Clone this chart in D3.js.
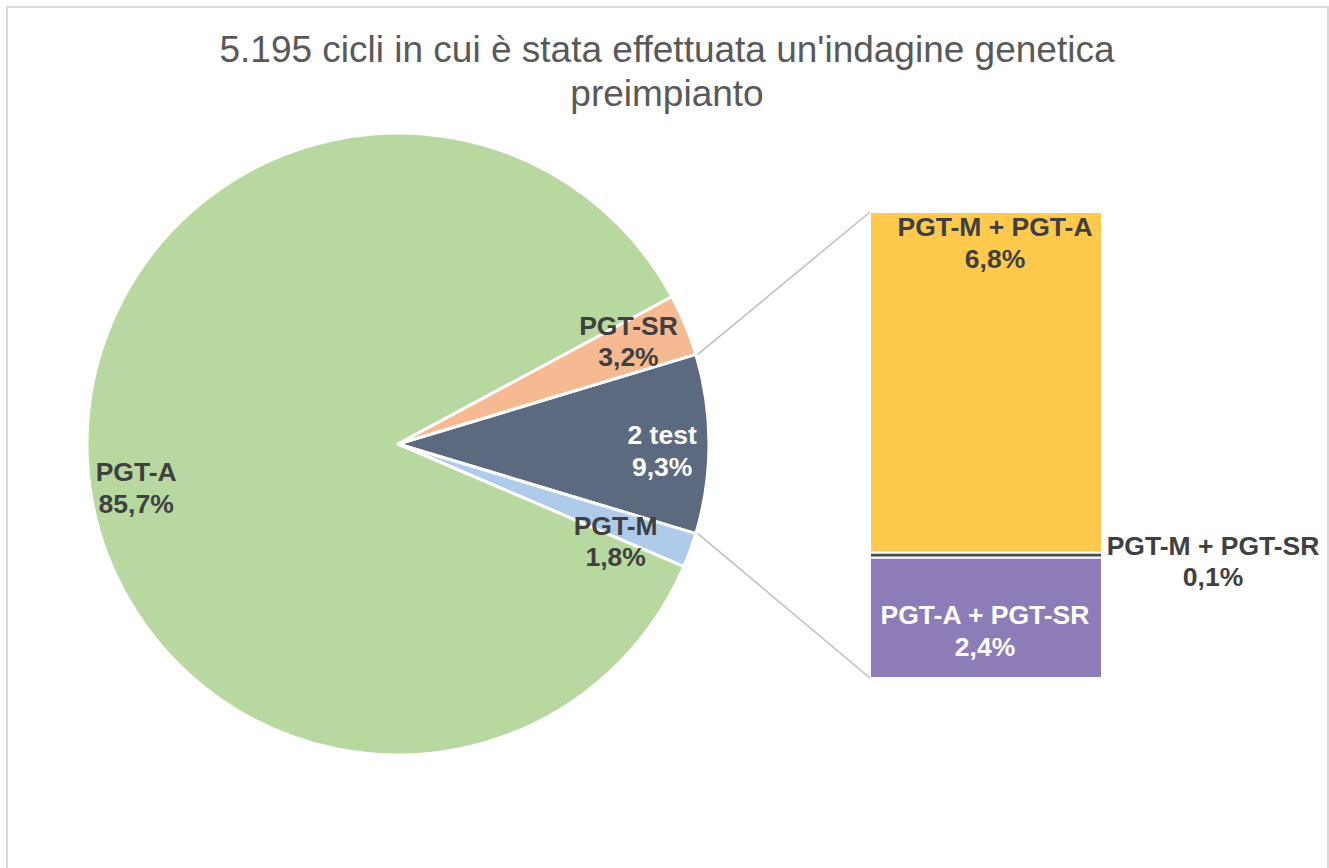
<!DOCTYPE html>
<html>
<head>
<meta charset="utf-8">
<script src="https://cdn.jsdelivr.net/npm/d3@7"></script>
<style>
  html, body { margin: 0; padding: 0; background: #fff; }
  svg { display: block; font-family: "Liberation Sans", Arial, sans-serif; }
</style>
</head>
<body>
<svg id="chart" width="1329" height="868"></svg>
<script>
// pie data (clockwise, starting at the "2 test" slice)
const pieLabels = ['2 test', 'PGT-M', 'PGT-A', 'PGT-SR'];
const pieValues = [9.3, 1.8, 85.7, 3.2];
const pieColors = ['#5c6a80', '#aecbea', '#b7d9a0', '#f5ba91'];
const pieTextColors = ['#ffffff', '#404040', '#404040', '#404040'];
// small label nudges (px) from the arc centroid, like the hand-placed labels
const pieNudge = [[6, 7], [-25, 9], [-4, 32], [-8, -4]];

// breakdown of "2 test" (top to bottom)
const barLabels = ['PGT-M + PGT-A', 'PGT-M + PGT-SR', 'PGT-A + PGT-SR'];
const barValues = [6.8, 0.1, 2.4];
const barColors = ['#ffc94d', '#4d4d4d', '#8e7cb8'];
const barTextColors = ['#404040', '#404040', '#ffffff'];

const titleLines = ["5.195 cicli in cui è stata effettuata un'indagine genetica", 'preimpianto'];

const fmt = v => d3.format('.1f')(v).replace('.', ',') + '%';

const svg = d3.select('#chart');
const W = 1329, H = 868;
const labelSize = '26.5px';

// outer frame
svg.append('rect')
  .attr('x', 7).attr('y', 7)
  .attr('width', W - 8).attr('height', H + 10)
  .attr('fill', 'none')
  .attr('stroke', '#d9d9d9')
  .attr('stroke-width', 2);

// title
svg.append('text')
  .attr('x', 667).attr('y', 62)
  .attr('text-anchor', 'middle')
  .style('font-size', '37px')
  .style('fill', '#595959')
  .selectAll('tspan')
  .data(titleLines)
  .enter()
  .append('tspan')
  .attr('x', 667)
  .attr('dy', (d, i) => i === 0 ? 0 : 44)
  .text(d => d);

// pie
const cx = 398, cy = 444, R = 311;
const total = d3.sum(pieValues);
const firstSpan = pieValues[0] / total * 2 * Math.PI;
const startA = Math.PI / 2 - firstSpan / 2;

const pie = d3.pie()
  .sort(null)
  .value(d => d)
  .startAngle(startA)
  .endAngle(startA + 2 * Math.PI);
const arcs = pie(pieValues);

const arc = d3.arc().innerRadius(0).outerRadius(R);
const labelArc = d3.arc().innerRadius(R * 0.83).outerRadius(R * 0.83);

const g = svg.append('g').attr('transform', `translate(${cx},${cy})`);

g.selectAll('path')
  .data(arcs)
  .enter()
  .append('path')
  .attr('d', arc)
  .attr('fill', (d, i) => pieColors[i])
  .attr('stroke', '#fff')
  .attr('stroke-width', 3)
  .attr('stroke-linejoin', 'round');

const pieText = g.selectAll('text.lbl')
  .data(arcs)
  .enter()
  .append('text')
  .attr('class', 'lbl')
  .attr('transform', (d, i) => {
    const c = labelArc.centroid(d);
    return `translate(${c[0] + pieNudge[i][0]},${c[1] + pieNudge[i][1]})`;
  })
  .attr('text-anchor', 'middle')
  .style('font-size', labelSize)
  .style('font-weight', 'bold')
  .style('fill', (d, i) => pieTextColors[i]);
pieText.append('tspan').attr('x', 0).attr('dy', '-0.25em').text((d, i) => pieLabels[i]);
pieText.append('tspan').attr('x', 0).attr('dy', '1.2em').text(d => fmt(d.data));

// stacked bar
const barX = 870, barW = 232;
const y = d3.scaleLinear().domain([0, d3.sum(barValues)]).range([212, 678]);
const cum = d3.cumsum(barValues);
const segs = barValues.map((v, i) => ({ v, y0: cum[i] - v, y1: cum[i] }));

svg.append('g')
  .selectAll('rect')
  .data(segs)
  .enter()
  .append('rect')
  .attr('x', barX)
  .attr('y', d => y(d.y0))
  .attr('width', barW)
  .attr('height', d => y(d.y1) - y(d.y0))
  .attr('fill', (d, i) => barColors[i])
  .attr('stroke', '#fff')
  .attr('stroke-width', 2);

// connector lines from the "2 test" slice to the bar
const a0 = arcs[0].startAngle, a1 = arcs[0].endAngle;
const edge = a => [cx + R * Math.sin(a), cy - R * Math.cos(a)];
const conn = [[edge(a0), [barX, y(0)]], [edge(a1), [barX, y(d3.sum(barValues))]]];
svg.append('g')
  .selectAll('line')
  .data(conn)
  .enter()
  .append('line')
  .attr('x1', d => d[0][0] + 2).attr('y1', d => d[0][1])
  .attr('x2', d => d[1][0]).attr('y2', d => d[1][1])
  .attr('stroke', '#bfbfbf')
  .attr('stroke-width', 1.5);

// bar labels: top segment near its top, thin one outside, last one centred
const barLabelPos = segs.map((d, i) => {
  const mid = barX + barW / 2;
  const segMid = (y(d.y0) + y(d.y1)) / 2;
  if (i === 0) return [mid + 9, y(d.y0) + 31];
  if (i === 1) return [barX + barW + 111, segMid + 6];
  return [mid - 1, segMid + 13];
});

const barText = svg.append('g')
  .selectAll('text')
  .data(segs)
  .enter()
  .append('text')
  .attr('transform', (d, i) => `translate(${barLabelPos[i]})`)
  .attr('text-anchor', 'middle')
  .style('font-size', labelSize)
  .style('font-weight', 'bold')
  .style('fill', (d, i) => barTextColors[i]);
barText.append('tspan').attr('x', 0).attr('dy', '-0.25em').text((d, i) => barLabels[i]);
barText.append('tspan').attr('x', 0).attr('dy', '1.2em').text(d => fmt(d.v));
</script>
</body>
</html>
